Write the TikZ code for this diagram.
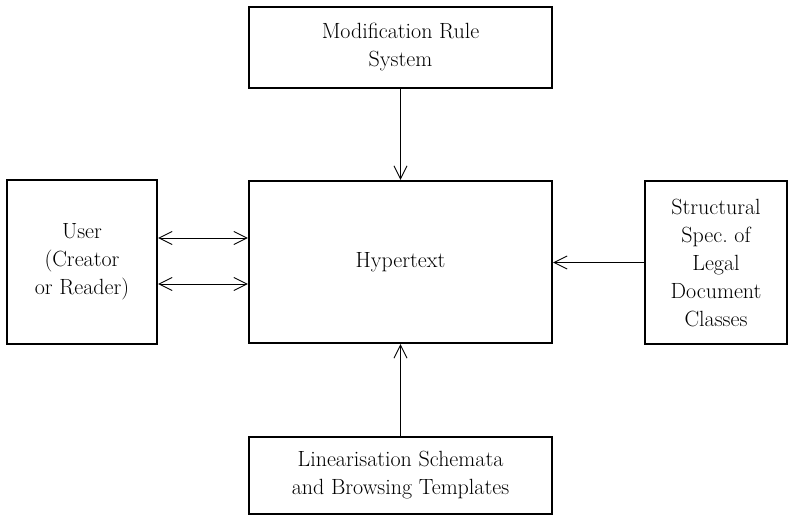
\documentclass[tikz,border=0pt]{standalone}
\usetikzlibrary{arrows.meta}
\begin{document}
\begin{tikzpicture}[x=1pt,y=-1pt,
  box/.style={draw, line width=2.4pt, align=center, inner sep=0pt,
    font=\fontsize{22}{28}\selectfont},
  conn/.style={line width=0.9pt, -{Straight Barb[length=13pt,width=13pt,line width=0.9pt]}},
  biconn/.style={line width=0.9pt, {Straight Barb[length=13pt,width=13pt,line width=0.9pt]}-{Straight Barb[length=13pt,width=13pt,line width=0.9pt]}}]
\useasboundingbox (0,0) rectangle (789,517);
\node[box, minimum width=303pt, minimum height=81pt] (mod) at (400.5,47.5) {Modification Rule\\System};
\node[box, minimum width=303pt, minimum height=162pt] (hyp) at (400.5,262) {Hypertext};
\node[box, minimum width=150pt, minimum height=164pt] (user) at (82,262) {User\\(Creator\\or Reader)};
\node[box, minimum width=142pt, minimum height=163pt] (spec) at (716,262.5) {Structural\\Spec.\ of\\Legal\\Document\\Classes};
\node[box, minimum width=303pt, minimum height=77pt] (lin) at (400.5,475.5) {Linearisation Schemata\\and Browsing Templates};
\draw[conn] (mod.south) -- (hyp.north);
\draw[conn] (lin.north) -- (hyp.south);
\draw[conn] (spec.west) -- (spec.west -| hyp.east);
\draw[biconn] ([yshift=-22pt]user.east) -- ([yshift=-22pt]user.east -| hyp.west);
\draw[biconn] ([yshift=24pt]user.east) -- ([yshift=24pt]user.east -| hyp.west);
\end{tikzpicture}
\end{document}
